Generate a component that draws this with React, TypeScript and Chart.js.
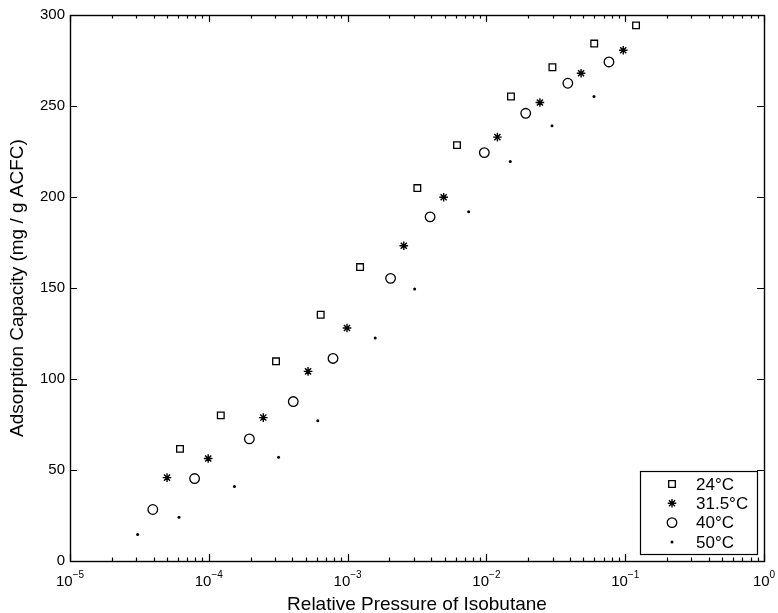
import React, { useEffect, useRef } from 'react';
import { Chart, registerables } from 'chart.js';
import { drawPoint } from 'chart.js/helpers';

Chart.register(...registerables);

// ---- data ----
const seriesLabels = ['24°C', '31.5°C', '40°C', '50°C'];

const x24 = [6.2e-5, 1.22e-4, 3.05e-4, 6.4e-4, 1.23e-3, 3.18e-3, 6.14e-3, 0.01503, 0.0299, 0.0598, 0.1197];
const y24 = [61.6, 80.0, 109.7, 135.3, 161.5, 204.9, 228.5, 255.2, 271.3, 284.3, 294.3];

const x315 = [5.0e-5, 9.9e-5, 2.47e-4, 5.19e-4, 9.9e-4, 2.54e-3, 4.92e-3, 0.012, 0.0243, 0.0481, 0.0968];
const y315 = [45.8, 56.3, 78.8, 104.2, 128.0, 173.2, 199.9, 232.9, 251.9, 268.0, 280.6];

const x40 = [3.95e-5, 7.9e-5, 1.96e-4, 4.06e-4, 7.85e-4, 2.04e-3, 3.93e-3, 9.66e-3, 0.0192, 0.0386, 0.0764];
const y40 = [28.3, 45.3, 67.1, 87.6, 111.3, 155.3, 189.1, 224.4, 246.0, 262.5, 274.2];

const x50 = [3.07e-5, 6.1e-5, 1.53e-4, 3.18e-4, 6.1e-4, 1.58e-3, 3.04e-3, 7.45e-3, 0.01486, 0.0297, 0.0596];
const y50 = [14.5, 24.0, 40.9, 57.0, 77.1, 122.5, 149.4, 191.9, 219.5, 239.1, 255.2];

const yTickValues = [0, 50, 100, 150, 200, 250, 300];
const xDecadeExponents = [-5, -4, -3, -2, -1, 0];
const xMinorMultipliers = [2, 3, 4, 5, 6, 7, 8, 9];

const xTitle = 'Relative Pressure of Isobutane';
const yTitle = 'Adsorption Capacity (mg / g ACFC)';

const FONT = '"Liberation Sans", Arial, Helvetica, sans-serif';

const toPoints = (xs: number[], ys: number[]) => xs.map((x, i) => ({ x, y: ys[i] }));

export default function App() {
  const ref = useRef<HTMLCanvasElement>(null);

  useEffect(() => {
    if (!ref.current) return;

    const axesPlugin = {
      id: 'matlabAxes',
      afterDraw(chart: any) {
        const { ctx, chartArea: a, scales } = chart;
        const xs = scales.x;
        const ys = scales.y;
        ctx.save();
        ctx.strokeStyle = '#000';
        ctx.lineWidth = 1.2;
        ctx.beginPath();
        // y ticks (left & right, inward)
        yTickValues.forEach((v) => {
          const py = Math.round(ys.getPixelForValue(v)) + 0.5;
          ctx.moveTo(a.left, py);
          ctx.lineTo(a.left + 7, py);
          ctx.moveTo(a.right, py);
          ctx.lineTo(a.right - 7, py);
        });
        // x major ticks
        xDecadeExponents.forEach((e) => {
          const px = Math.round(xs.getPixelForValue(Math.pow(10, e))) + 0.5;
          ctx.moveTo(px, a.bottom);
          ctx.lineTo(px, a.bottom - 7);
          ctx.moveTo(px, a.top);
          ctx.lineTo(px, a.top + 7);
        });
        // x minor ticks
        xDecadeExponents.slice(0, -1).forEach((e) => {
          xMinorMultipliers.forEach((m) => {
            const px = Math.round(xs.getPixelForValue(m * Math.pow(10, e))) + 0.5;
            ctx.moveTo(px, a.bottom);
            ctx.lineTo(px, a.bottom - 3.5);
            ctx.moveTo(px, a.top);
            ctx.lineTo(px, a.top + 3.5);
          });
        });
        ctx.stroke();
        // box
        ctx.lineWidth = 1.4;
        ctx.strokeRect(Math.round(a.left) + 0.5, Math.round(a.top) + 0.5, Math.round(a.right - a.left), Math.round(a.bottom - a.top));

        // x tick labels 10^e
        ctx.fillStyle = '#000';
        ctx.textBaseline = 'alphabetic';
        ctx.textAlign = 'left';
        const baseFont = `15px ${FONT}`;
        const expFont = `10px ${FONT}`;
        xDecadeExponents.forEach((e) => {
          const px = xs.getPixelForValue(Math.pow(10, e));
          const base = '10';
          const ex = e < 0 ? '\u2212' + Math.abs(e) : String(e);
          ctx.font = baseFont;
          const wb = ctx.measureText(base).width;
          ctx.font = expFont;
          const we = ctx.measureText(ex).width;
          const start = px - (wb + we) / 2;
          ctx.font = baseFont;
          ctx.fillText(base, start, a.bottom + 25);
          ctx.font = expFont;
          ctx.fillText(ex, start + wb, a.bottom + 17);
        });

        // legend
        const bw = 117, bh = 83;
        const bx = Math.round(a.right - 7.5 - bw) + 0.5;
        const by = Math.round(a.bottom - 7.5 - bh) + 0.5;
        ctx.fillStyle = '#fff';
        ctx.fillRect(bx, by, bw, bh);
        ctx.lineWidth = 1.2;
        ctx.strokeStyle = '#000';
        ctx.strokeRect(bx, by, bw, bh);
        ctx.font = `17px ${FONT}`;
        ctx.textBaseline = 'middle';
        ctx.fillStyle = '#000';
        chart.data.datasets.forEach((ds: any, i: number) => {
          const cy = by + 12.5 + i * 19.3;
          ctx.save();
          ctx.strokeStyle = ds.borderColor;
          ctx.fillStyle = ds.backgroundColor;
          ctx.lineWidth = ds.borderWidth;
          drawPoint(ctx, { pointStyle: ds.pointStyle, radius: ds.pointRadius, borderWidth: ds.borderWidth, rotation: 0 }, bx + 31.5, cy);
          ctx.restore();
          ctx.fillText(ds.label, bx + 55.5, cy + 1);
        });
        ctx.restore();
      },
    };

    const chart = new Chart(ref.current, {
      type: 'scatter',
      data: {
        datasets: [
          {
            label: seriesLabels[0],
            data: toPoints(x24, y24),
            pointStyle: 'rect',
            pointRadius: 4.7,
            borderWidth: 1.3,
            borderColor: '#000',
            backgroundColor: 'rgba(0,0,0,0)',
          },
          {
            label: seriesLabels[1],
            data: toPoints(x315, y315),
            pointStyle: 'star',
            pointRadius: 4.3,
            borderWidth: 1.4,
            borderColor: '#000',
            backgroundColor: 'rgba(0,0,0,0)',
          },
          {
            label: seriesLabels[2],
            data: toPoints(x40, y40),
            pointStyle: 'circle',
            pointRadius: 4.8,
            borderWidth: 1.3,
            borderColor: '#000',
            backgroundColor: 'rgba(0,0,0,0)',
          },
          {
            label: seriesLabels[3],
            data: toPoints(x50, y50),
            pointStyle: 'circle',
            pointRadius: 1.5,
            borderWidth: 0,
            borderColor: '#000',
            backgroundColor: '#000',
          },
        ],
      },
      options: {
        responsive: false,
        animation: false,
        events: [],
        layout: { padding: { top: 15, right: 14, left: 0, bottom: 0 } },
        plugins: {
          legend: { display: false },
          tooltip: { enabled: false },
        },
        scales: {
          x: {
            type: 'logarithmic',
            min: 1e-5,
            max: 1,
            grid: { display: false, drawTicks: false },
            border: { display: false },
            ticks: { display: false },
            title: {
              display: true,
              text: xTitle,
              color: '#000',
              font: { family: FONT, size: 19, lineHeight: 1 },
              padding: { top: 0, bottom: -1.5 },
            },
            afterFit: (scale: any) => {
              scale.height = 52;
            },
          },
          y: {
            type: 'linear',
            min: 0,
            max: 300,
            grid: { display: false, drawTicks: false },
            border: { display: false },
            ticks: {
              stepSize: 50,
              color: '#000',
              padding: 5,
              font: { family: FONT, size: 15 },
            },
            title: {
              display: true,
              text: yTitle,
              color: '#000',
              font: { family: FONT, size: 19, lineHeight: 1 },
              padding: { top: 8, bottom: 0 },
            },
            afterFit: (scale: any) => {
              scale.width = 70;
            },
          },
        },
      },
      plugins: [axesPlugin],
    } as any);

    return () => chart.destroy();
  }, []);

  return (
    <div style={{ position: 'absolute', left: 0, top: 0, width: 778, height: 613, background: '#fff' }}>
      <canvas ref={ref} width={778} height={613} style={{ display: 'block', width: 778, height: 613 }} />
    </div>
  );
}
